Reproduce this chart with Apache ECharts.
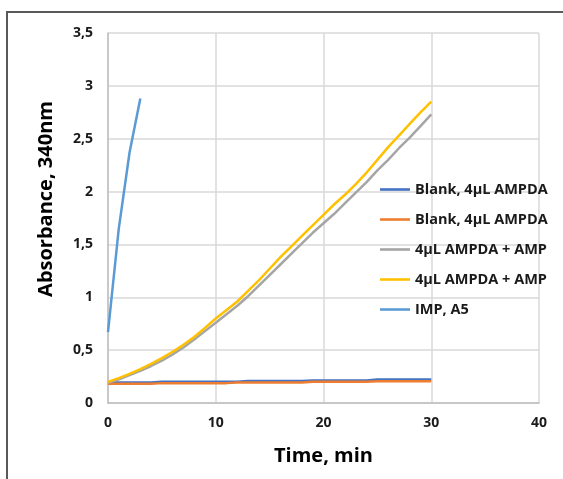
<!DOCTYPE html>
<html>
<head>
<meta charset="utf-8">
<script src="https://cdn.jsdelivr.net/npm/echarts@6/dist/echarts.min.js"></script>
<style>
html,body{margin:0;padding:0;background:#fff;}
#c{width:563px;height:479px;}
</style>
</head>
<body>
<div id="c"></div>
<script>
const time = [0,1,2,3,4,5,6,7,8,9,10,11,12,13,14,15,16,17,18,19,20,21,22,23,24,25,26,27,28,29,30];
const blank1 = [0.195,0.195,0.195,0.195,0.195,0.2,0.2,0.2,0.2,0.2,0.2,0.2,0.2,0.207,0.207,0.207,0.207,0.207,0.207,0.213,0.213,0.213,0.213,0.213,0.213,0.222,0.222,0.222,0.222,0.222,0.222];
const blank2 = [0.183,0.183,0.183,0.183,0.183,0.188,0.188,0.188,0.188,0.188,0.188,0.188,0.194,0.194,0.194,0.194,0.194,0.194,0.194,0.2,0.2,0.2,0.2,0.2,0.2,0.205,0.205,0.205,0.205,0.205,0.205];
const ampda1 = [0.19,0.225,0.265,0.305,0.35,0.40,0.46,0.525,0.60,0.68,0.76,0.84,0.92,1.01,1.11,1.21,1.31,1.41,1.51,1.61,1.70,1.79,1.89,1.99,2.09,2.20,2.30,2.41,2.51,2.62,2.73];
const ampda2 = [0.20,0.235,0.275,0.32,0.37,0.425,0.485,0.55,0.625,0.71,0.80,0.88,0.96,1.06,1.16,1.27,1.38,1.48,1.58,1.68,1.78,1.88,1.97,2.07,2.18,2.30,2.42,2.53,2.64,2.75,2.85];
const impTime = [0,1,2,3];
const imp = [0.67,1.65,2.37,2.88];
const names = ['Blank, 4µL AMPDA','Blank, 4µL AMPDA','4µL AMPDA + AMP','4µL AMPDA + AMP','IMP, A5'];
const colors = ['#4472C4','#ED7D31','#A5A5A5','#FFC000','#5B9BD5'];
const yTicks = ['0','0,5','1','1,5','2','2,5','3','3,5'];

const pair = (xs, ys) => xs.map((x, i) => [x, ys[i]]);
const seriesData = [pair(time, blank1), pair(time, blank2), pair(time, ampda1), pair(time, ampda2), pair(impTime, imp)];
const keyName = (i) => names[i] + (i===1||i===3 ? ' ' : '');

const chart = echarts.init(document.getElementById('c'), null, {renderer:'canvas'});
const font = '"Open Sans", "Noto Sans", sans-serif';
chart.setOption({
  animation:false,
  backgroundColor:'#fff',
  textStyle:{fontFamily:font},
  graphic:[{type:'rect', shape:{x:7, y:12, width:600, height:520}, style:{fill:'none', stroke:'#595959', lineWidth:2}, silent:true}],
  grid:{left:108, right:24, top:33, bottom:76},
  legend:{
    orient:'vertical', left:380, top:180, padding:0,
    itemWidth:30, itemHeight:10, itemGap:11,
    textStyle:{fontFamily:font, fontWeight:'bold', fontSize:14.5, color:'#1a1a1a', lineHeight:19},
    data:names.map((n,i)=>({name:keyName(i), icon:'path://M0,3.7 L30,3.7 L30,6.3 L0,6.3 Z'}))
  },
  xAxis:{
    type:'value', min:0, max:40, interval:10,
    name:'Time, min', nameLocation:'middle', nameGap:43,
    nameTextStyle:{fontFamily:font, fontWeight:'bold', fontSize:20, color:'#000'},
    axisLine:{show:true, lineStyle:{color:'#bfbfbf', width:1.5}},
    axisTick:{show:false},
    axisLabel:{fontFamily:font, fontWeight:'bold', fontSize:14, color:'#1a1a1a', margin:13},
    splitLine:{show:true, lineStyle:{color:'#d9d9d9', width:1.5}}
  },
  yAxis:{
    type:'value', min:0, max:3.5, interval:0.5,
    name:'Absorbance, 340nm', nameLocation:'middle', nameGap:52,
    nameTextStyle:{fontFamily:font, fontWeight:'bold', fontSize:20, color:'#000', padding:[0,0,0,38]},
    axisLine:{show:true, lineStyle:{color:'#bfbfbf', width:1.5}},
    axisTick:{show:false},
    axisLabel:{fontFamily:font, fontWeight:'bold', fontSize:14, color:'#1a1a1a', margin:15,
      formatter:(v)=>yTicks[Math.round(v/0.5)]},
    splitLine:{show:true, lineStyle:{color:'#d9d9d9', width:1.5}}
  },
  series:seriesData.map((d,i)=>({
    name:keyName(i), type:'line', data:d, symbol:'none', smooth:false,
    color:colors[i], lineStyle:{color:colors[i], width:2.5}, z:2+i
  }))
});
</script>
</body>
</html>
